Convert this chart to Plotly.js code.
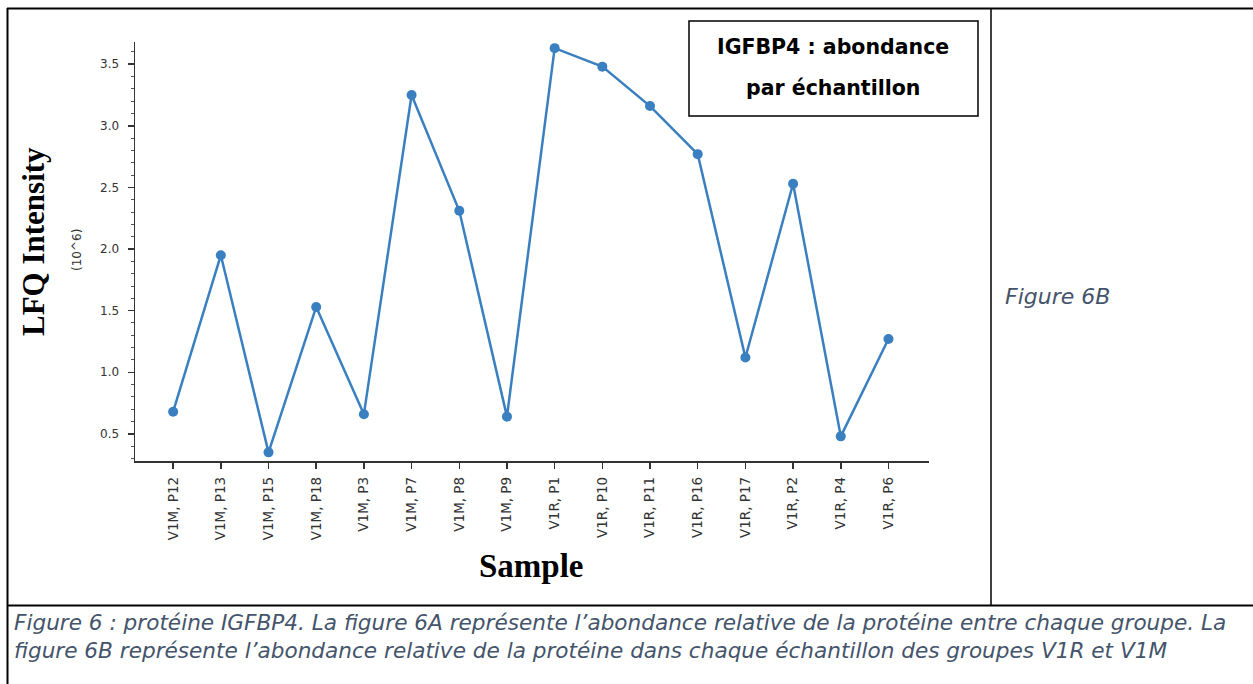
<!DOCTYPE html>
<html>
<head>
<meta charset="utf-8">
<script src="https://cdn.plot.ly/plotly-3.0.1.min.js"></script>
<style>html,body{margin:0;padding:0;background:#fff;}#chart{width:1253px;height:684px;}</style>
</head>
<body>
<div id="chart"></div>
<script>
const samples = ["V1M, P12","V1M, P13","V1M, P15","V1M, P18","V1M, P3","V1M, P7","V1M, P8","V1M, P9",
                 "V1R, P1","V1R, P10","V1R, P11","V1R, P16","V1R, P17","V1R, P2","V1R, P4","V1R, P6"];
const lfq = [0.68, 1.95, 0.35, 1.53, 0.66, 3.25, 2.31, 0.64, 3.63, 3.48, 3.16, 2.77, 1.12, 2.53, 0.48, 1.27];
const yTicks = [0.5, 1.0, 1.5, 2.0, 2.5, 3.0, 3.5];

const W = 1253, H = 684;
const px = x => x / W;
const py = y => 1 - y / H;
const lineCol = '#3a7fbf';
const sans = '"DejaVu Sans", Arial, sans-serif';
const serif = '"Times New Roman", "Liberation Serif", serif';
const capCol = '#44546A';

const trace = {
  x: samples, y: lfq, type: 'scatter', mode: 'lines+markers',
  line: {color: lineCol, width: 2.5},
  marker: {color: lineCol, size: 10},
  hoverinfo: 'x+y'
};

const layout = {
  width: W, height: H,
  margin: {l: 0, r: 0, t: 0, b: 0},
  paper_bgcolor: '#fff', plot_bgcolor: '#fff',
  showlegend: false,
  xaxis: {
    type: 'category', domain: [px(135), px(929)], range: [-0.8, 15.85],
    showline: true, linecolor: '#333', linewidth: 1.5, showgrid: false, zeroline: false,
    ticks: 'outside', ticklen: 6, tickcolor: '#333', tickwidth: 1.5,
    tickangle: -90, tickfont: {family: sans, size: 13.5, color: '#333'},
    ticklabelstandoff: 3,
    fixedrange: true
  },
  yaxis: {
    domain: [py(461), py(42)], range: [0.28, 3.68],
    tickvals: yTicks, ticktext: yTicks.map(v => v.toFixed(1)),
    showline: true, linecolor: '#333', linewidth: 1.5, showgrid: false, zeroline: false,
    ticks: 'outside', ticklen: 6, tickcolor: '#333', tickwidth: 1.5,
    tickfont: {family: sans, size: 12, color: '#333'},
    ticklabelstandoff: 6,
    minor: {dtick: 0.1, tick0: 0, ticks: 'outside', ticklen: 3, tickcolor: '#555', tickwidth: 1},
    fixedrange: true
  },
  shapes: [
    {type: 'line', xref: 'paper', yref: 'paper', x0: px(7.5), x1: px(7.5), y0: py(8), y1: py(684), line: {color: '#000', width: 2}},
    {type: 'line', xref: 'paper', yref: 'paper', x0: px(7), x1: px(1253), y0: py(8.5), y1: py(8.5), line: {color: '#000', width: 2}},
    {type: 'line', xref: 'paper', yref: 'paper', x0: px(991), x1: px(991), y0: py(8), y1: py(605), line: {color: '#000', width: 1.5}},
    {type: 'line', xref: 'paper', yref: 'paper', x0: px(7), x1: px(1253), y0: py(605.5), y1: py(605.5), line: {color: '#000', width: 2}},
    {type: 'rect', xref: 'paper', yref: 'paper', x0: px(689), x1: px(978), y0: py(116), y1: py(21), line: {color: '#000', width: 1.5}, fillcolor: 'rgba(0,0,0,0)'}
  ],
  annotations: [
    {xref: 'paper', yref: 'paper', x: px(833), y: py(47), text: '<b>IGFBP4 : abondance</b>', showarrow: false,
     font: {family: sans, size: 20.5, color: '#000'}, xanchor: 'center', yanchor: 'middle'},
    {xref: 'paper', yref: 'paper', x: px(833), y: py(88), text: '<b>par échantillon</b>', showarrow: false,
     font: {family: sans, size: 20.5, color: '#000'}, xanchor: 'center', yanchor: 'middle'},
    {xref: 'paper', yref: 'paper', x: px(33), y: py(242), text: '<b>LFQ Intensity</b>', showarrow: false, textangle: -90,
     font: {family: serif, size: 31, color: '#000'}, xanchor: 'center', yanchor: 'middle'},
    {xref: 'paper', yref: 'paper', x: px(77), y: py(250), text: '(10^6)', showarrow: false, textangle: -90,
     font: {family: sans, size: 12, color: '#333'}, xanchor: 'center', yanchor: 'middle'},
    {xref: 'paper', yref: 'paper', x: px(531), y: py(566), text: '<b>Sample</b>', showarrow: false,
     font: {family: serif, size: 33, color: '#000'}, xanchor: 'center', yanchor: 'middle'},
    {xref: 'paper', yref: 'paper', x: px(1003), y: py(296), text: '<i>Figure 6B</i>', showarrow: false,
     font: {family: sans, size: 22, color: capCol}, xanchor: 'left', yanchor: 'middle'},
    {xref: 'paper', yref: 'paper', x: px(12), y: py(622), text: "<i>Figure 6 : protéine IGFBP4. La figure 6A représente l’abondance relative de la protéine entre chaque groupe. La</i>", showarrow: false,
     font: {family: sans, size: 21.6, color: capCol}, xanchor: 'left', yanchor: 'middle'},
    {xref: 'paper', yref: 'paper', x: px(12), y: py(650), text: "<i>figure 6B représente l’abondance relative de la protéine dans chaque échantillon des groupes V1R et V1M</i>", showarrow: false,
     font: {family: sans, size: 21.6, color: capCol}, xanchor: 'left', yanchor: 'middle'}
  ]
};

Plotly.newPlot('chart', [trace], layout, {displayModeBar: false, staticPlot: true});
</script>
</body>
</html>
